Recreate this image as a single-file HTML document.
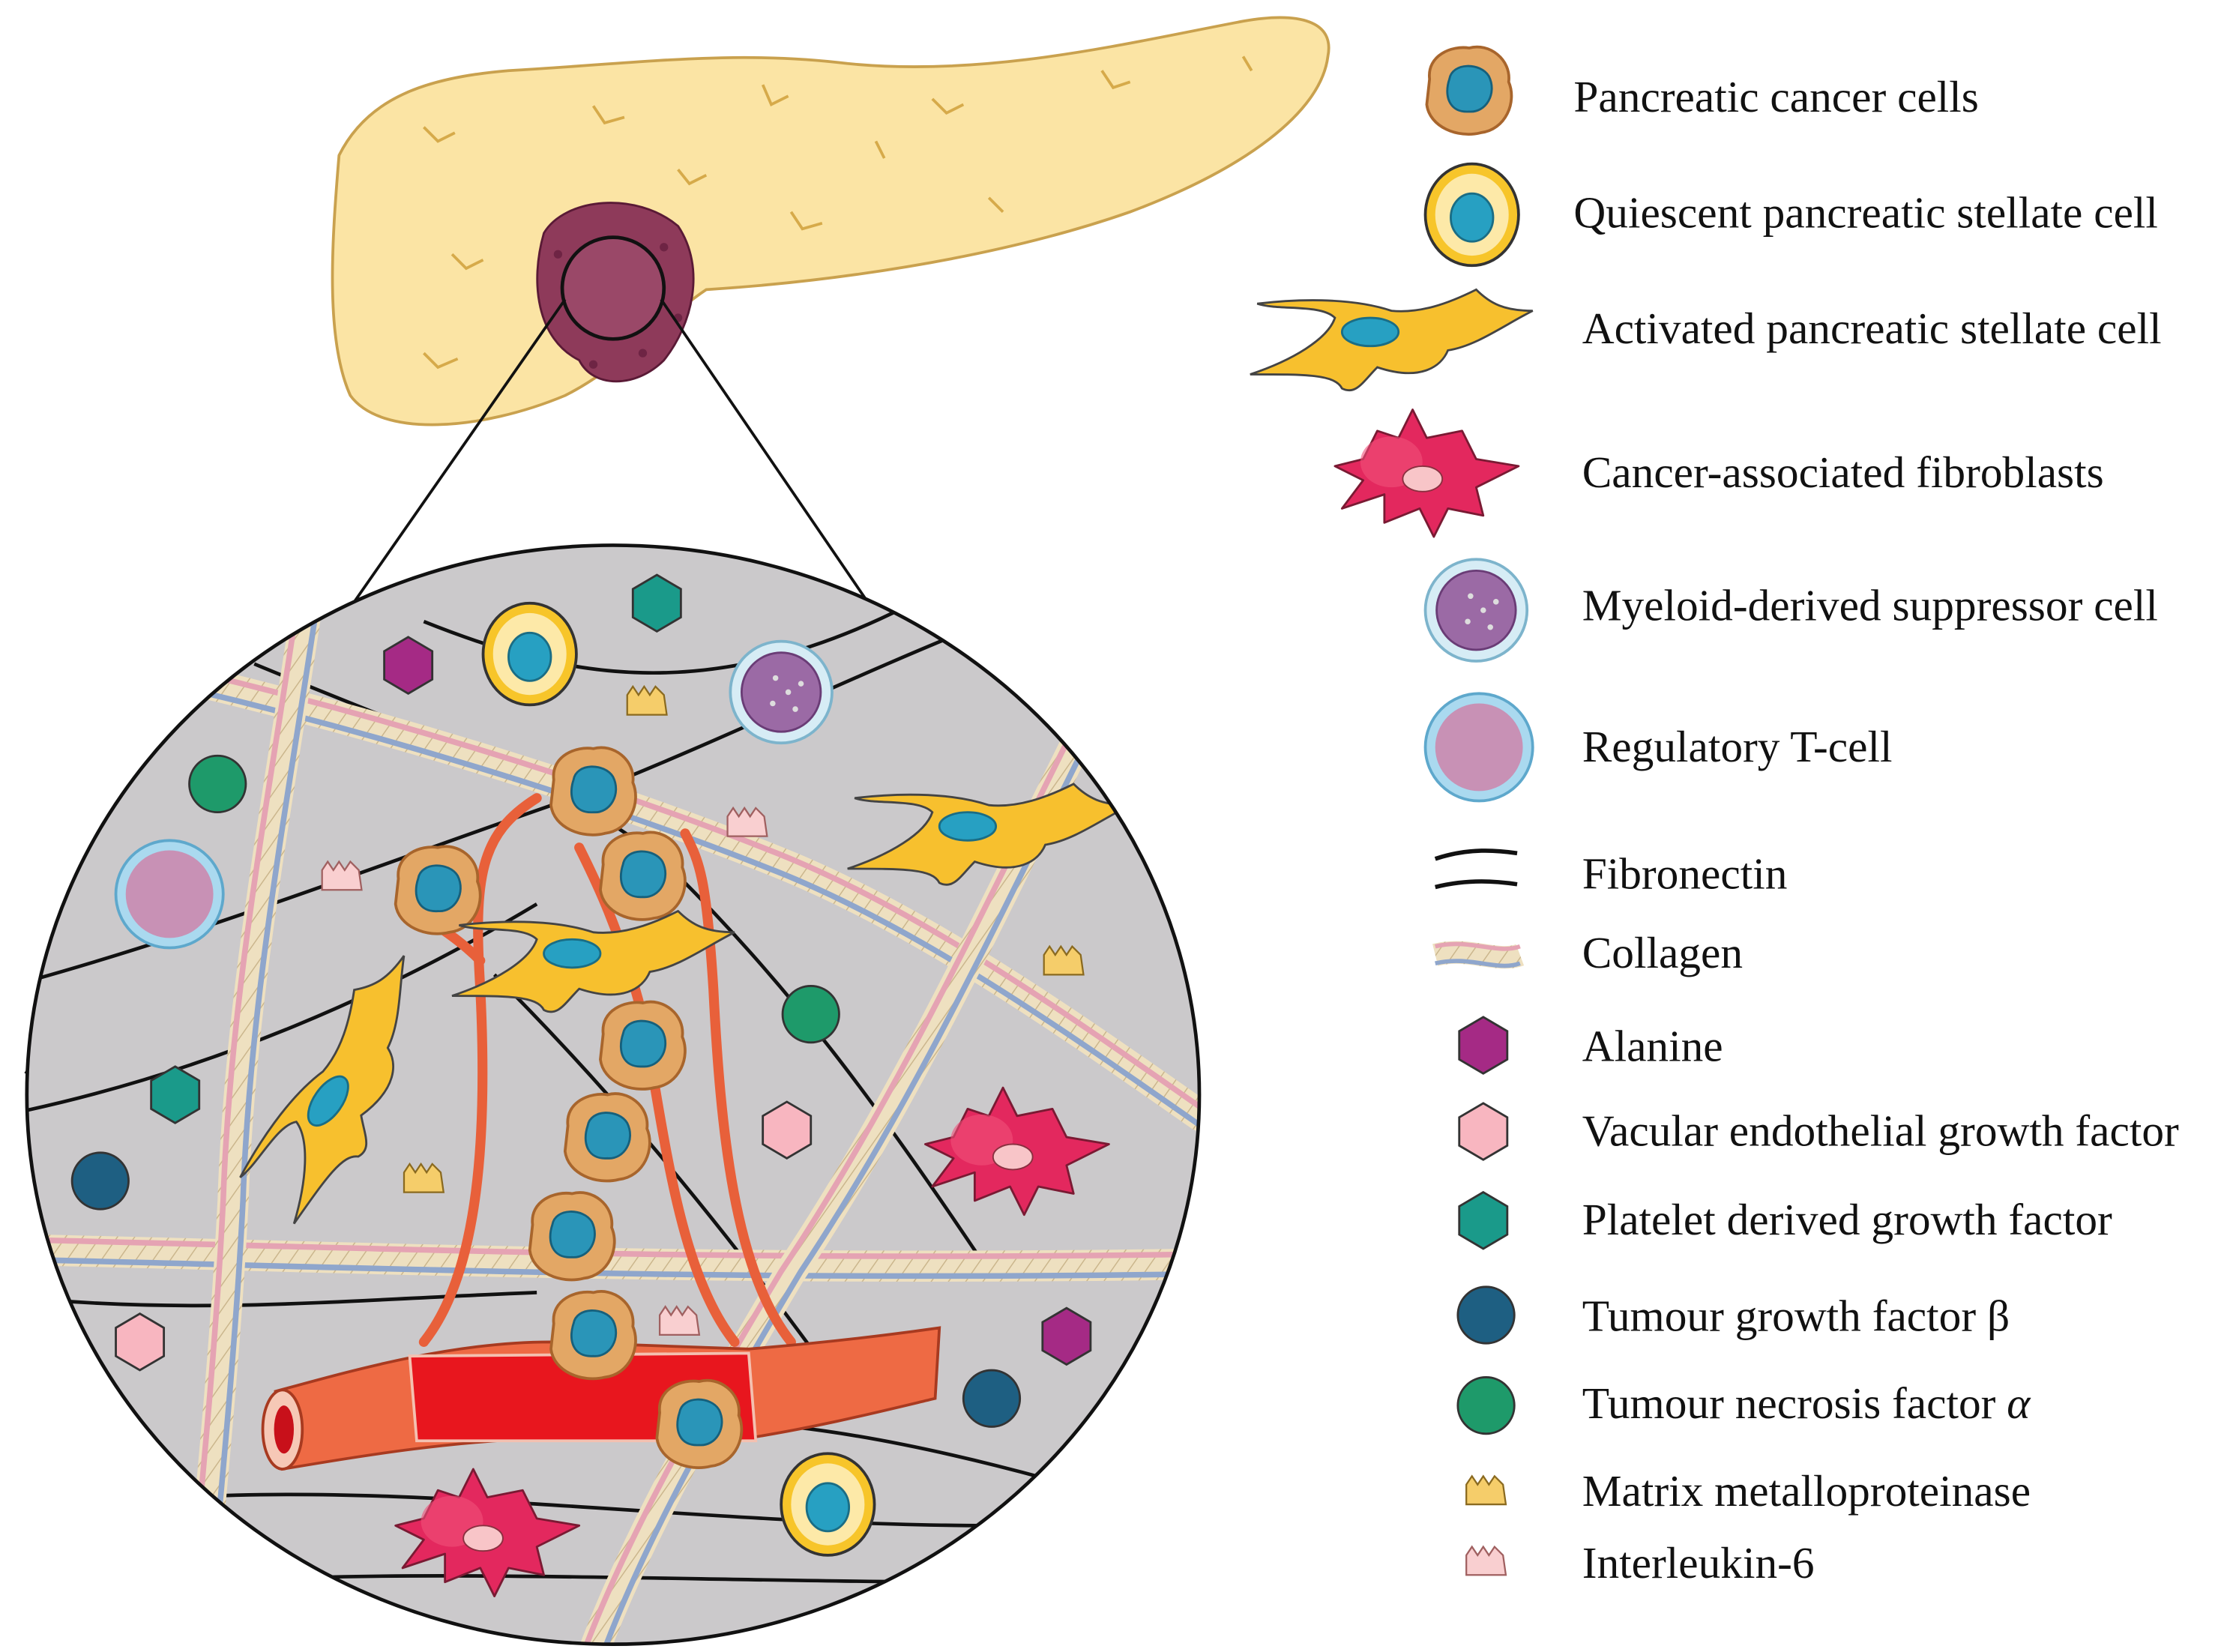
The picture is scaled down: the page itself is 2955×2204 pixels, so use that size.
<!DOCTYPE html>
<html><head><meta charset="utf-8"><style>
html,body{margin:0;padding:0;background:#fff;}
svg{display:block}
text{font-family:"Liberation Serif",serif;font-size:31.5px;fill:#111}
</style></head><body>
<svg width="2955" height="2204" viewBox="0 0 1568 1169.5" xmlns="http://www.w3.org/2000/svg">
<defs>
<clipPath id="cc"><ellipse cx="434" cy="775" rx="415" ry="389"/></clipPath>
<pattern id="tw" width="10" height="10" patternUnits="userSpaceOnUse" patternTransform="rotate(35)"><rect width="10" height="10" fill="#eee0c0"/><line x1="0" y1="0" x2="0" y2="10" stroke="#c9b48a" stroke-width="1.5"/></pattern>
<g id="pcc"><path d="M-28,-8 C-30,-25 -12,-32 0,-30 C14,-34 30,-22 28,-6 C34,8 26,28 8,30 C-8,34 -28,26 -30,10 Z" fill="#e3a765" stroke="#a8652c" stroke-width="2"/><path d="M-14,-8 C-12,-20 8,-20 14,-10 C20,2 12,16 0,15 C-14,16 -18,4 -14,-8Z" fill="#2a95b8" stroke="#16607c" stroke-width="1.5"/></g>
<g id="qps"><ellipse cx="0" cy="0" rx="33" ry="36" fill="#f7c52a" stroke="#333" stroke-width="2"/><ellipse cx="0" cy="0" rx="26" ry="29" fill="#fde9a8"/><ellipse cx="0" cy="2" rx="15" ry="17" fill="#27a0c2" stroke="#1a6d85" stroke-width="1.5"/></g>
<g id="aps"><path d="M-100,25 C-70,15 -45,0 -40,-15 C-50,-25 -80,-20 -95,-25 C-70,-28 -30,-30 0,-20 C20,-18 40,-25 60,-35 C70,-25 80,-20 100,-20 C80,-10 60,5 40,8 C35,20 20,30 -10,20 C-20,30 -25,40 -35,35 C-40,25 -60,25 -100,25Z" fill="#f7c02e" stroke="#444" stroke-width="1.5"/><ellipse cx="-15" cy="-5" rx="20" ry="10" fill="#27a0c2" stroke="#1a6d85" stroke-width="1.5"/></g>
<g id="caf"><path d="M-60,-5 L-40,-10 L-30,-30 L-15,-25 L-5,-45 L5,-25 L30,-30 L40,-10 L70,-5 L40,10 L45,30 L20,25 L10,45 L0,25 L-25,35 L-25,15 L-55,25 L-40,5Z" fill="#e3285e" stroke="#7a1a33" stroke-width="1.5" stroke-linejoin="round"/><ellipse cx="-20" cy="-8" rx="22" ry="18" fill="#f0507a" opacity=".6"/><ellipse cx="2" cy="4" rx="14" ry="9" fill="#f8c5c8" stroke="#8a3040" stroke-width="1"/></g>
<g id="mdsc"><circle r="36" fill="#d6ecf5" stroke="#7db4cc" stroke-width="2"/><circle r="28" fill="#9b6aa5" stroke="#6a3c76" stroke-width="1.5"/><circle cx="5" cy="0" r="2" fill="#ddd"/><circle cx="-6" cy="8" r="2" fill="#ddd"/><circle cx="10" cy="12" r="2" fill="#ddd"/><circle cx="-4" cy="-10" r="2" fill="#ddd"/><circle cx="14" cy="-6" r="2" fill="#ddd"/></g>
<g id="treg"><circle r="38" fill="#aad9ef" stroke="#5ea8cc" stroke-width="2"/><circle r="31" fill="#c891b5"/></g>
<g id="hex"><polygon points="0,-20 17,-10 17,10 0,20 -17,10 -17,-10" stroke="#333" stroke-width="1.5"/></g>
<g id="mmp"><path d="M-14,-6 L-10,-12 L-6,-6 L-2,-12 L2,-6 L6,-12 L12,-6 L14,8 L-14,8Z" fill="#f5cd6a" stroke="#8a6a20" stroke-width="1.2"/></g>
<g id="il6"><path d="M-14,-6 L-10,-12 L-6,-6 L-2,-12 L2,-6 L6,-12 L12,-6 L14,8 L-14,8Z" fill="#f9cfd0" stroke="#a06060" stroke-width="1.2"/></g>
</defs>

<path d="M240,110 C260,70 300,55 360,50 C450,45 520,35 600,45 C700,55 800,30 880,15 C920,8 945,15 940,40 C935,80 880,120 800,150 C700,185 580,200 500,205 C470,225 440,260 400,280 C340,305 270,310 248,280 C230,240 235,170 240,110Z" fill="#fbe4a4" stroke="#c9a14e" stroke-width="2"/>
<g fill="none" stroke="#d6aa4a" stroke-width="2">
<path d="M300,90 l10,10 l12,-6"/><path d="M420,75 l8,12 l14,-4"/><path d="M540,60 l6,14 l12,-6"/><path d="M660,70 l10,10 l12,-6"/><path d="M780,50 l8,12 l12,-4"/><path d="M880,40 l6,10"/><path d="M320,180 l10,10 l12,-6"/><path d="M560,150 l8,12 l14,-4"/><path d="M700,140 l10,10"/><path d="M300,250 l10,10 l14,-6"/><path d="M480,120 l8,10 l12,-6"/><path d="M620,100 l6,12"/>
</g>
<path d="M385,165 C400,140 450,135 480,160 C500,190 490,230 470,255 C450,275 420,275 410,255 C380,240 375,200 385,165Z" fill="#8e3a5a" stroke="#5a1a36" stroke-width="1.5"/>
<g fill="#6e2444"><circle cx="395" cy="180" r="3"/><circle cx="470" cy="175" r="3"/><circle cx="480" cy="225" r="3"/><circle cx="420" cy="258" r="3"/><circle cx="455" cy="250" r="3"/></g>
<circle cx="434" cy="204" r="36" fill="#9a4868" stroke="#111" stroke-width="2.5"/>
<line x1="400" y1="212" x2="18" y2="760" stroke="#111" stroke-width="2"/>
<line x1="468" y1="212" x2="849" y2="770" stroke="#111" stroke-width="2"/>

<ellipse cx="434" cy="775" rx="415" ry="389" fill="#cbc9cb"/>
<g clip-path="url(#cc)">
<g fill="none" stroke="#111" stroke-width="2.5">
<path d="M0,700 C150,660 300,600 420,560 C520,520 600,480 700,440"/>
<path d="M0,790 C150,760 280,700 380,640"/>
<path d="M180,470 C300,520 420,560 480,620 C560,700 620,780 700,900"/>
<path d="M300,440 C400,480 500,500 640,430"/>
<path d="M350,690 C420,760 500,850 600,990"/>
<path d="M130,1060 C300,1050 500,1080 700,1080 C780,1080 830,1060 860,1040"/>
<path d="M150,1120 C300,1110 500,1120 700,1120"/>
<path d="M560,1010 C650,1020 760,1050 850,1080"/>
<path d="M30,920 C150,930 250,920 380,915"/>
</g>
<g fill="none" stroke-linecap="round">
<g><path d="M130,480 C300,520 450,570 550,610 C650,650 750,720 850,790" stroke="url(#tw)" stroke-width="22"/><path d="M130,474 C300,514 450,564 550,604 C650,644 750,714 850,784" stroke="#e5a3b3" stroke-width="4"/><path d="M130,487 C300,527 450,577 550,617 C650,657 750,727 850,797" stroke="#8fa6cc" stroke-width="4"/></g>
<g><path d="M30,885 C250,890 500,900 840,895" stroke="url(#tw)" stroke-width="22"/><path d="M30,878 C250,883 500,893 840,888" stroke="#e5a3b3" stroke-width="4"/><path d="M30,892 C250,897 500,907 840,902" stroke="#8fa6cc" stroke-width="4"/></g>
<g><path d="M220,410 C200,550 170,700 165,850 C160,950 150,1050 140,1160" stroke="url(#tw)" stroke-width="22"/><path d="M213,410 C193,550 163,700 158,850 C153,950 143,1050 133,1160" stroke="#e5a3b3" stroke-width="4"/><path d="M227,410 C207,550 177,700 172,850 C167,950 157,1050 147,1160" stroke="#8fa6cc" stroke-width="4"/></g>
<g><path d="M765,520 C700,650 640,780 560,900 C500,1000 450,1090 420,1170" stroke="url(#tw)" stroke-width="22"/><path d="M758,520 C693,650 633,780 553,900 C493,1000 443,1090 413,1170" stroke="#e5a3b3" stroke-width="4"/><path d="M772,520 C707,650 647,780 567,900 C507,1000 457,1090 427,1170" stroke="#8fa6cc" stroke-width="4"/></g>
</g>
<g fill="none" stroke="#e8603a" stroke-width="7" stroke-linecap="round">
<path d="M300,950 C340,900 345,800 340,700 C335,620 340,590 380,565"/>
<path d="M560,950 C520,900 510,800 505,700 C500,620 495,610 485,590"/>
<path d="M520,950 C480,900 470,800 455,720 C440,660 420,620 410,600"/>
<path d="M340,680 C320,660 300,650 285,640"/>
</g>
<path d="M195,985 C250,970 320,950 390,950 L530,955 C590,950 630,945 665,940 L662,990 C620,1000 580,1010 530,1018 L390,1018 C320,1020 260,1030 200,1040Z" fill="#ee6a44" stroke="#a83a20" stroke-width="2"/>
<path d="M290,960 L530,958 L535,1020 L295,1020Z" fill="#e8161e" stroke="#f4c0b0" stroke-width="2"/>
<ellipse cx="200" cy="1012" rx="14" ry="28" fill="#f6c8b6" stroke="#a83a20" stroke-width="2"/>
<ellipse cx="201" cy="1012" rx="7" ry="17" fill="#c8101a"/>
<use href="#pcc" x="420" y="560"/><use href="#pcc" x="310" y="630"/><use href="#pcc" x="455" y="620"/><use href="#pcc" x="455" y="740"/><use href="#pcc" x="430" y="805"/><use href="#pcc" x="405" y="875"/><use href="#pcc" x="420" y="945"/><use href="#pcc" x="495" y="1008"/>
<use href="#aps" x="420" y="680"/>
<use href="#aps" x="700" y="590"/>
<use href="#aps" x="245" y="770" transform="rotate(-55 245 770)"/>
<use href="#caf" x="715" y="815"/>
<use href="#caf" x="340" y="1085"/>
<use href="#qps" x="375" y="463"/>
<use href="#qps" x="586" y="1065"/>
<use href="#mdsc" x="553" y="490"/>
<use href="#treg" x="120" y="633"/>
<use href="#hex" x="465" y="427" fill="#1a9a8a"/>
<use href="#hex" x="289" y="471" fill="#a52a85"/>
<use href="#hex" x="124" y="775" fill="#1a9a8a"/>
<use href="#hex" x="557" y="800" fill="#f8b6c0"/>
<use href="#hex" x="99" y="950" fill="#f8b6c0"/>
<use href="#hex" x="755" y="946" fill="#a52a85"/>
<circle cx="154" cy="555" r="20" fill="#1e9a6a" stroke="#333" stroke-width="1.5"/>
<circle cx="574" cy="718" r="20" fill="#1e9a6a" stroke="#333" stroke-width="1.5"/>
<circle cx="71" cy="836" r="20" fill="#1e5f82" stroke="#333" stroke-width="1.5"/>
<circle cx="702" cy="990" r="20" fill="#1e5f82" stroke="#333" stroke-width="1.5"/>
<use href="#mmp" x="458" y="498"/><use href="#mmp" x="753" y="682"/><use href="#mmp" x="300" y="836"/>
<use href="#il6" x="529" y="584"/><use href="#il6" x="242" y="622"/><use href="#il6" x="481" y="937"/>
</g>
<ellipse cx="434" cy="775" rx="415" ry="389" fill="none" stroke="#111" stroke-width="2.5"/>

<use href="#pcc" x="1040" y="64"/>
<use href="#qps" x="1042" y="152"/>
<use href="#aps" x="985" y="240"/>
<use href="#caf" x="1005" y="335"/>
<use href="#mdsc" x="1045" y="432"/>
<use href="#treg" x="1047" y="529"/>
<path d="M1016,608 C1040,600 1060,602 1074,604 M1016,628 C1040,622 1060,624 1074,626" stroke="#111" stroke-width="3" fill="none"/>
<g><path d="M1016,676 C1040,670 1060,682 1076,676" stroke="url(#tw)" stroke-width="16" fill="none"/><path d="M1016,670 C1040,664 1060,676 1076,670" stroke="#e5a3b3" stroke-width="3" fill="none"/><path d="M1016,682 C1040,676 1060,688 1076,682" stroke="#8fa6cc" stroke-width="3" fill="none"/></g>
<use href="#hex" x="1050" y="740" fill="#a52a85"/>
<use href="#hex" x="1050" y="801" fill="#f8b6c0"/>
<use href="#hex" x="1050" y="864" fill="#1a9a8a"/>
<circle cx="1052" cy="931" r="20" fill="#1e5f82" stroke="#333" stroke-width="1.5"/>
<circle cx="1052" cy="995" r="20" fill="#1e9a6a" stroke="#333" stroke-width="1.5"/>
<use href="#mmp" x="1052" y="1057"/>
<use href="#il6" x="1052" y="1107"/>
<text x="1114" y="79">Pancreatic cancer cells</text>
<text x="1114" y="161">Quiescent pancreatic stellate cell</text>
<text x="1120" y="243">Activated pancreatic stellate cell</text>
<text x="1120" y="345">Cancer-associated fibroblasts</text>
<text x="1120" y="439">Myeloid-derived suppressor cell</text>
<text x="1120" y="539">Regulatory T-cell</text>
<text x="1120" y="629">Fibronectin</text>
<text x="1120" y="685">Collagen</text>
<text x="1120" y="751">Alanine</text>
<text x="1120" y="811">Vacular endothelial growth factor</text>
<text x="1120" y="874">Platelet derived growth factor</text>
<text x="1120" y="942">Tumour growth factor β</text>
<text x="1120" y="1004">Tumour necrosis factor <tspan font-style="italic">α</tspan></text>
<text x="1120" y="1066">Matrix metalloproteinase</text>
<text x="1120" y="1117">Interleukin-6</text>
</svg>
</body></html>
